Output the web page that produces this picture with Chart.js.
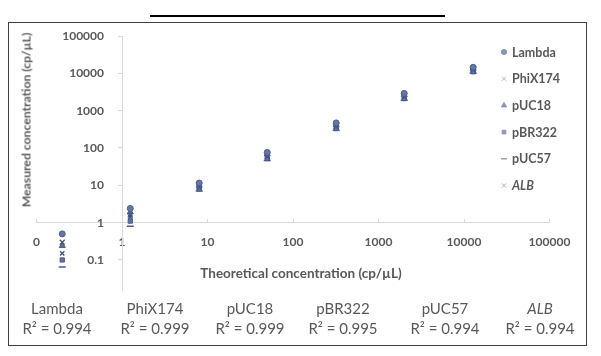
<!DOCTYPE html>
<html>
<head>
<meta charset="utf-8">
<script src="https://cdn.jsdelivr.net/npm/chart.js@4.4.1/dist/chart.umd.min.js"></script>
<style>
  html, body { margin: 0; padding: 0; background: #fff; }
  #wrap { position: relative; width: 601px; height: 356px; overflow: hidden; font-family: Lato, "Open Sans", sans-serif; color: #595959; }
  #topline { position: absolute; left: 150px; top: 15px; width: 295px; height: 2px; background: #000; }
  #frame { position: absolute; left: 8px; top: 22px; width: 577px; height: 322px; border: 1.5px solid #404040; }
  canvas { position: absolute; left: 0; top: 0; }
  #ytitle { position: absolute; left: 26px; top: 120px; transform: translate(-50%, -50%) rotate(-90deg); white-space: nowrap; font-weight: bold; font-size: 12.2px; }
  #xtitle { position: absolute; left: 301px; top: 273px; transform: translate(-50%, -50%); white-space: nowrap; font-weight: bold; font-size: 13.5px; }
  .r2 { position: absolute; transform: translateX(-50%); text-align: center; font-size: 15px; line-height: 20px; white-space: nowrap; }
</style>
</head>
<body>
<div id="wrap">
  <div id="topline"></div>
  <div id="frame"></div>
  <canvas id="c" width="601" height="356"></canvas>
  <div id="ytitle">Measured concentration (cp/µL)</div>
  <div id="xtitle">Theoretical concentration (cp/µL)</div>
  <div id="r2row"></div>
</div>
<script>
// ---- data ----
const theoretical = [0.2, 1.25, 8, 50, 320, 2000, 12800];
const seriesNames = ['Lambda', 'PhiX174', 'pUC18', 'pBR322', 'pUC57', 'ALB'];
const lambdaVals  = [0.5, 2.4, 11.5, 76, 470, 2900, 14500];
const phixVals    = [0.3, 1.6, 9, 60, 380, 2400, 12500];
const puc18Vals   = [0.24, 1.9, 10, 68, 420, 2650, 13500];
const pbr322Vals  = [0.1, 1.1, 8, 52, 330, 2100, 11000];
const puc57Vals   = [0.065, 0.8, 7, 46, 300, 1900, 10000];
const albVals     = [0.15, 1.4, 8.5, 56, 360, 2250, 11800];
const r2Values    = ['0.994', '0.999', '0.999', '0.995', '0.994', '0.994'];
const xTicks = [0.1, 1, 10, 100, 1000, 10000, 100000];
const xTickLabels = ['0', '1', '10', '100', '1000', '10000', '100000'];
const yTicks = [0.1, 1, 10, 100, 1000, 10000, 100000];
const yTickLabels = ['0.1', '1', '10', '100', '1000', '10000', '100000'];

const allVals = [lambdaVals, phixVals, puc18Vals, pbr322Vals, puc57Vals, albVals];
const styles = [
  {pointStyle: 'circle',   radius: 3,   bg: '#6477a6', border: '#4a5b8c', bw: 1},
  {pointStyle: 'crossRot', radius: 3.5, bg: '#4f6090', border: '#435485', bw: 1.3},
  {pointStyle: 'triangle', radius: 3.5, bg: '#5a6c9c', border: '#4a5b8c', bw: 1},
  {pointStyle: 'rect',     radius: 3,   bg: '#5f71a2', border: '#4a5b8c', bw: 1},
  {pointStyle: 'line',     radius: 3.5, bg: '#4a5b8c', border: '#4a5b8c', bw: 1.5},
  {pointStyle: 'crossRot', radius: 3,   bg: '#3f4e7e', border: '#3f4e7e', bw: 1.3}
];
const legendStyles = [
  {pointStyle: 'circle',   radius: 2.6, bg: '#8794b6', border: '#8794b6', bw: 1},
  {pointStyle: 'crossRot', radius: 3,   bg: '#b4bac8', border: '#b4bac8', bw: 1},
  {pointStyle: 'triangle', radius: 3,   bg: '#8894b4', border: '#8894b4', bw: 1},
  {pointStyle: 'rect',     radius: 2.6, bg: '#8c97b5', border: '#8c97b5', bw: 1},
  {pointStyle: 'line',     radius: 3,   bg: '#8c97b5', border: '#8c97b5', bw: 1.4},
  {pointStyle: 'crossRot', radius: 3,   bg: '#a7adbd', border: '#a7adbd', bw: 1}
];

const datasets = seriesNames.map((name, i) => ({
  label: name,
  data: theoretical.map((x, j) => ({x: x, y: allVals[i][j]})),
  pointStyle: styles[i].pointStyle,
  pointRadius: styles[i].radius,
  pointBackgroundColor: styles[i].bg,
  pointBorderColor: styles[i].border,
  pointBorderWidth: styles[i].bw,
  showLine: false
}));

const legendPlugin = {
  id: 'sideLegend',
  afterDraw(chart) {
    const ctx = chart.ctx;
    ctx.save();
    chart.data.datasets.forEach((ds, i) => {
      const y = 52 + 26.7 * i;
      const st = legendStyles[i];
      ctx.fillStyle = st.bg;
      ctx.strokeStyle = st.border;
      ctx.lineWidth = st.bw;
      Chart.helpers.drawPoint(ctx, {pointStyle: st.pointStyle, radius: st.radius, borderWidth: st.bw, rotation: 0}, 504, y);
      ctx.fillStyle = '#595959';
      ctx.font = (ds.label === 'ALB' ? 'italic ' : '') + 'bold 12.5px Lato, "Open Sans", sans-serif';
      ctx.textAlign = 'left';
      ctx.textBaseline = 'middle';
      ctx.fillText(ds.label, 512, y + 0.5);
    });
    ctx.restore();
  }
};

const tickFont = {family: 'Lato, "Open Sans", sans-serif', size: 12, weight: 'bold'};

new Chart(document.getElementById('c'), {
  type: 'scatter',
  data: {datasets},
  options: {
    responsive: false,
    animation: false,
    devicePixelRatio: 1,
    layout: {padding: {left: 36.5, right: 51.5, top: 36, bottom: 66}},
    plugins: {legend: {display: false}, tooltip: {enabled: false}},
    scales: {
      x: {
        type: 'logarithmic',
        min: 0.1, max: 100000,
        position: {y: 1},
        afterFit: s => { s.height = 0; },
        afterBuildTicks: s => { s.ticks = xTicks.map(v => ({value: v})); },
        grid: {display: true, drawOnChartArea: false, drawTicks: true, tickLength: -4, color: '#d9d9d9'},
        border: {display: true, color: '#d9d9d9', width: 1},
        ticks: {
          color: '#595959', font: tickFont, padding: 16, maxRotation: 0, autoSkip: false,
          callback: (v) => { const k = xTicks.indexOf(v); return k >= 0 ? xTickLabels[k] : ''; }
        }
      },
      y: {
        type: 'logarithmic',
        min: 0.0157, max: 100000,
        position: {x: 1},
        afterFit: s => { s.width = 0; },
        afterBuildTicks: s => { s.ticks = yTicks.map(v => ({value: v})); },
        grid: {display: true, drawOnChartArea: false, drawTicks: true, tickLength: 4, color: '#d9d9d9'},
        border: {display: true, color: '#d9d9d9', width: 1},
        ticks: {
          color: '#595959', font: tickFont, autoSkip: false,
          callback: (v) => { const k = yTicks.indexOf(v); return k >= 0 ? yTickLabels[k] + '\u2002\u2002\u2002' : ''; }
        }
      }
    }
  },
  plugins: [legendPlugin]
});

// R² row
const r2Centers = [57, 155, 250, 343, 445, 540];
const row = document.getElementById('r2row');
seriesNames.forEach((name, i) => {
  const d = document.createElement('div');
  d.className = 'r2';
  d.style.left = r2Centers[i] + 'px';
  d.style.top = '298px';
  d.innerHTML = '<span' + (name === 'ALB' ? ' style="font-style:italic"' : '') + '>' + name + '</span><br>R² = ' + r2Values[i];
  row.appendChild(d);
});
</script>
</body>
</html>
